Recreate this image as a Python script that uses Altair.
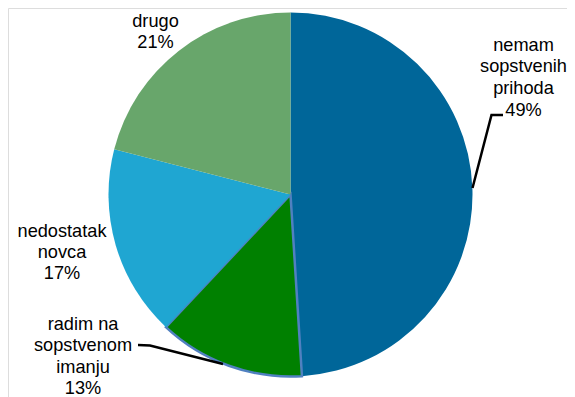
import altair as alt
import pandas as pd

# ---- data ----
categories = ["nemam sopstvenih prihoda", "radim na sopstvenom imanju", "nedostatak novca", "drugo"]
values = [49, 13, 17, 21]
label_lines = [
    ["nemam", "sopstvenih", "prihoda", "49%"],
    ["radim na", "sopstvenom", "imanju", "13%"],
    ["nedostatak", "novca", "17%"],
    ["drugo", "21%"],
]

# ---- styles / layout ----
colors = ["#006699", "#008000", "#1FA6D2", "#68A66B"]
edge_colors = ["#006699", "#5080C0", "#1FA6D2", "#68A66B"]
edge_widths = [0, 2.5, 0, 0]
W, H = 559, 389
CX, CY, R = 282.5, 186.5, 182
FONT = "Liberation Sans"
FS = 18.2
# label anchor: (center x, first baseline y, line step) in chart coords
label_pos = [
    (515.5, 42.5, 21.7),
    (75, 322, 21.3),
    (54, 228.7, 21),
    (147.5, 19, 20.5),
]
leaders = [
    [(495, 107), (483.5, 107), (464.5, 180)],
    [(130, 337), (142, 337.5), (215, 356)],
]

pie_df = pd.DataFrame({
    "cat": categories,
    "val": values,
    "idx": list(range(len(categories))),
    "edge": edge_colors,
    "ew": edge_widths,
})

rows = []
for i, lines in enumerate(label_lines):
    x0, y0, step = label_pos[i]
    for j, t in enumerate(lines):
        rows.append({"t": t, "x": x0, "y": y0 + j * step})
text_df = pd.DataFrame(rows)

lrows = []
for k, path in enumerate(leaders):
    for j, (x, y) in enumerate(path):
        lrows.append({"g": k, "o": j, "x": x, "y": y})
lead_df = pd.DataFrame(lrows)

pie = alt.Chart(pie_df).mark_arc(radius=R).encode(
    theta=alt.Theta("val:Q", stack=True),
    order=alt.Order("idx:Q"),
    color=alt.Color("cat:N", scale=alt.Scale(domain=categories, range=colors), legend=None),
    stroke=alt.Stroke("edge:N", scale=None),
    strokeWidth=alt.StrokeWidth("ew:Q", scale=None),
    x=alt.value(CX),
    y=alt.value(CY),
)

text = alt.Chart(text_df).mark_text(
    font=FONT, fontSize=FS, color="#000000", align="center", baseline="alphabetic"
).encode(
    x=alt.X("x:Q", scale=None),
    y=alt.Y("y:Q", scale=None),
    text="t:N",
)

lead = alt.Chart(lead_df).mark_line(color="#000000", strokeWidth=2.5).encode(
    x=alt.X("x:Q", scale=None),
    y=alt.Y("y:Q", scale=None),
    detail="g:N",
    order="o:Q",
)

chart = alt.layer(pie, lead, text).properties(
    width=W, height=H, autosize=alt.AutoSizeParams(type="none"), padding=0
).configure_view(stroke=None).configure(background="#ffffff")

chart.save("out.html", embed_options={"renderer": "svg", "actions": False})
